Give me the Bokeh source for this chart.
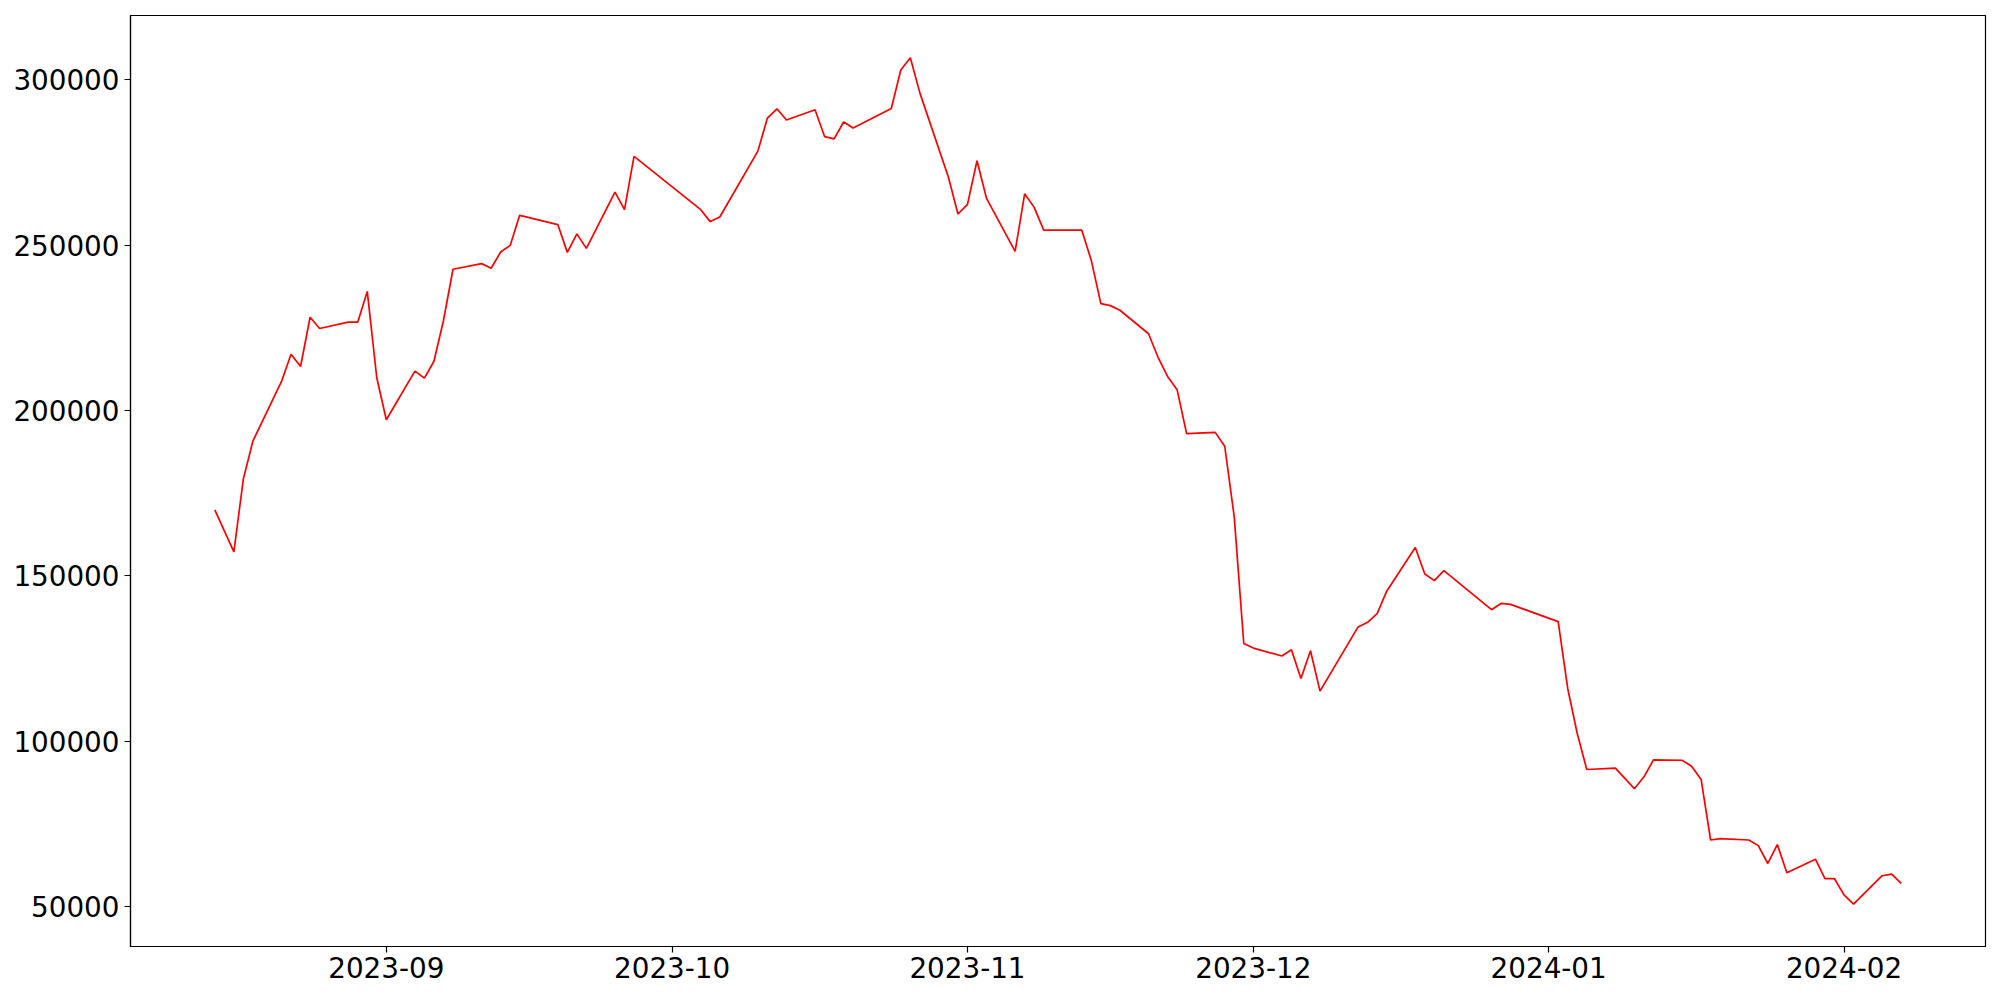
import pandas as pd
from bokeh.plotting import figure
from bokeh.models import Range1d, MonthsTicker, DatetimeTickFormatter, FixedTicker, NumeralTickFormatter, ColumnDataSource
from bokeh.embed import file_html
from bokeh.resources import INLINE

dates = [
    "2023-08-14", "2023-08-16", "2023-08-17", "2023-08-18", "2023-08-21", "2023-08-22", "2023-08-23",
    "2023-08-24", "2023-08-25", "2023-08-28", "2023-08-29", "2023-08-30", "2023-08-31", "2023-09-01",
    "2023-09-04", "2023-09-05", "2023-09-06", "2023-09-07", "2023-09-08", "2023-09-11", "2023-09-12",
    "2023-09-13", "2023-09-14", "2023-09-15", "2023-09-19", "2023-09-20", "2023-09-21", "2023-09-22",
    "2023-09-25", "2023-09-26", "2023-09-27", "2023-10-04", "2023-10-05", "2023-10-06", "2023-10-10",
    "2023-10-11", "2023-10-12", "2023-10-13", "2023-10-16", "2023-10-17", "2023-10-18", "2023-10-19",
    "2023-10-20", "2023-10-24", "2023-10-25", "2023-10-26", "2023-10-27", "2023-10-30", "2023-10-31",
    "2023-11-01", "2023-11-02", "2023-11-03", "2023-11-06", "2023-11-07", "2023-11-08", "2023-11-09",
    "2023-11-13", "2023-11-14", "2023-11-15", "2023-11-16", "2023-11-17", "2023-11-20", "2023-11-21",
    "2023-11-22", "2023-11-23", "2023-11-24", "2023-11-27", "2023-11-28", "2023-11-29", "2023-11-30",
    "2023-12-01", "2023-12-04", "2023-12-05", "2023-12-06", "2023-12-07", "2023-12-08", "2023-12-12",
    "2023-12-13", "2023-12-14", "2023-12-15", "2023-12-18", "2023-12-19", "2023-12-20", "2023-12-21",
    "2023-12-26", "2023-12-27", "2023-12-28", "2024-01-02", "2024-01-03", "2024-01-04", "2024-01-05",
    "2024-01-08", "2024-01-09", "2024-01-10", "2024-01-11", "2024-01-12", "2024-01-15", "2024-01-16",
    "2024-01-17", "2024-01-18", "2024-01-19", "2024-01-22", "2024-01-23", "2024-01-24", "2024-01-25",
    "2024-01-26", "2024-01-29", "2024-01-30", "2024-01-31", "2024-02-01", "2024-02-02", "2024-02-05",
    "2024-02-06", "2024-02-07",
]

values = [
    170000, 157300, 179400, 190800, 208800, 217000, 213300,
    228200, 224800, 226700, 226700, 236000, 209900, 197200,
    211900, 209800, 214900, 227200, 242700, 244400, 243000,
    247900, 249900, 259000, 256200, 247800, 253400, 249000,
    266000, 260700, 276800, 260700, 257100, 258500, 278400,
    288400, 291200, 287800, 290900, 282800, 282100, 287200,
    285400, 291300, 302900, 306600, 296000, 270500, 259400,
    262300, 275500, 264100, 248100, 265500, 261400, 254500,
    254500, 245300, 232300, 231700, 230300, 223200, 216100,
    210300, 206300, 193000, 193400, 189200, 167800, 129600,
    128200, 125800, 127700, 119000, 127400, 115200, 134600,
    136000, 138600, 145400, 158600, 150600, 148600, 151600,
    139800, 141700, 141400, 136200, 116000, 102400, 91500,
    91900, 88800, 85700, 89300, 94400, 94300, 92500,
    88500, 70200, 70600, 70200, 68500, 63100, 68800,
    60300, 64400, 58500, 58500, 53600, 50800, 59400,
    59900, 57100,
]

y_ticks = [50000, 100000, 150000, 200000, 250000, 300000]

x = pd.to_datetime(dates)
src = ColumnDataSource(dict(x=x, y=values))

xmin, xmax = x.min(), x.max()
xpad = (xmax - xmin) * 0.05
ymin, ymax = min(values), max(values)
ypad = (ymax - ymin) * 0.05

p = figure(
    x_axis_type="datetime",
    frame_width=1855, frame_height=931,
    min_border_left=130, min_border_right=2, min_border_top=15, min_border_bottom=46,
    output_backend="svg", toolbar_location=None, title=None,
    x_range=Range1d(xmin - xpad, xmax + xpad),
    y_range=Range1d(ymin - ypad, ymax + ypad),
)
p.background_fill_color = "white"
p.border_fill_color = "white"
p.outline_line_color = "black"
p.outline_line_width = 1.2
p.xgrid.visible = False
p.ygrid.visible = False

p.line("x", "y", source=src, line_color="red", line_width=1.7)

p.xaxis.ticker = MonthsTicker(months=list(range(1, 13)))
p.xaxis.formatter = DatetimeTickFormatter(months="%Y-%m", days="%Y-%m", years="%Y-%m")
p.yaxis.ticker = FixedTicker(ticks=y_ticks)
p.yaxis.formatter = NumeralTickFormatter(format="0")

for ax in (p.xaxis, p.yaxis):
    ax.major_label_text_font = "DejaVu Sans"
    ax.major_label_text_font_size = "27.8px"
    ax.major_label_text_color = "black"
    ax.axis_line_color = "black"
    ax.axis_line_width = 1.2
    ax.major_tick_line_color = "black"
    ax.major_tick_line_width = 1.2
    ax.major_tick_out = 6
    ax.major_tick_in = 0
    ax.minor_tick_line_color = None
    ax.major_label_standoff = 5
p.xaxis.major_label_standoff = 4

open("out.html", "w").write(file_html(p, INLINE))
